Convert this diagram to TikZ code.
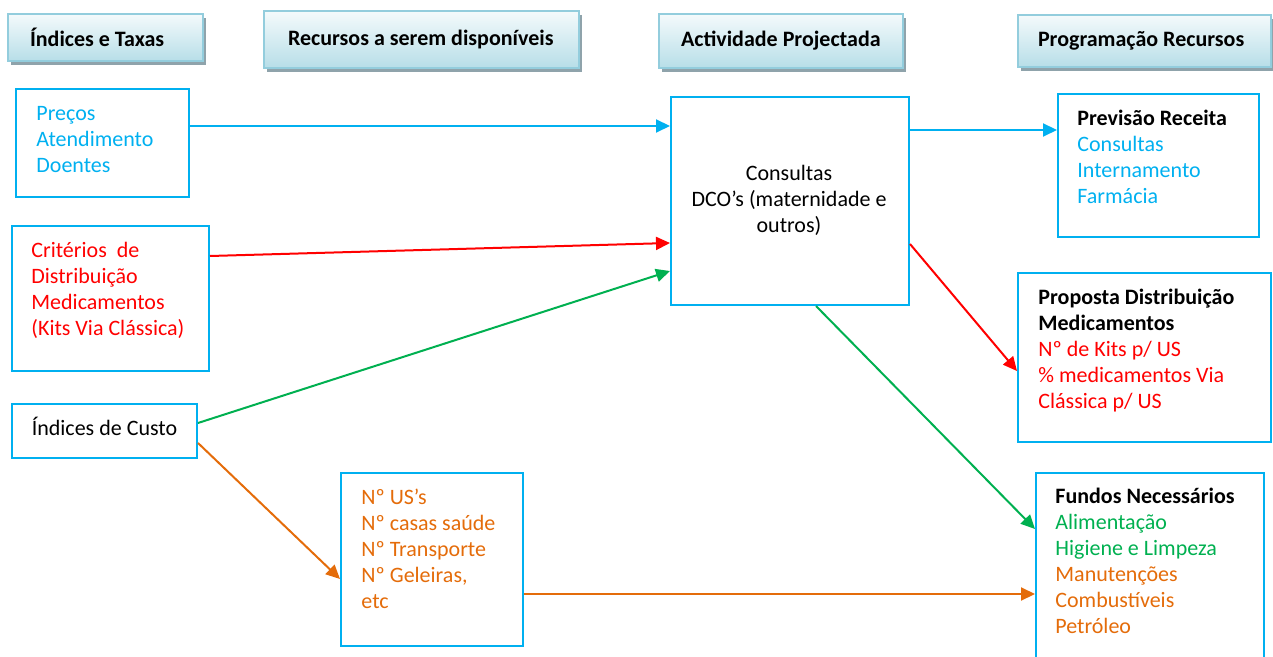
\documentclass[tikz,border=0pt]{standalone}
\usepackage{fontspec}
\setmainfont{Carlito}
\usetikzlibrary{arrows.meta, shadows}

\definecolor{cyanline}{HTML}{00B0F0}
\definecolor{redline}{HTML}{FF0000}
\definecolor{greenline}{HTML}{00B050}
\definecolor{orangeline}{HTML}{E46C0A}
\definecolor{headborder}{HTML}{93CDDD}
\definecolor{headfill}{HTML}{B7DEE8}
\definecolor{headshadow}{HTML}{8FA3AB}

\begin{document}
\begin{tikzpicture}[x=0.5pt, y=-0.5pt, font=\fontsize{11}{13}\selectfont,
    header/.style={rectangle, draw=headborder, line width=1pt, top color=headfill!15, bottom color=headfill, anchor=north west, font=\fontsize{11}{13}\selectfont\bfseries, drop shadow={shadow xshift=1.5pt, shadow yshift=-2pt, fill=headshadow, opacity=1}},
    box/.style={rectangle, draw=cyanline, line width=1pt, anchor=north west, inner sep=0pt},
    boxtext/.style={anchor=base west, align=flush left, inner sep=0pt, text width=#1},
    link/.style={line width=1pt, -{Triangle[length=7pt, width=6.5pt]}}]
    \useasboundingbox (0,0) rectangle (1273,657);

    % Headers
    \node [header, minimum width=97.5pt, minimum height=23.5pt, inner xsep=11pt] (hindices) at (7,13) {\makebox[75.5pt][l]{Índices e Taxas}};
    \node [header, minimum width=157.5pt, minimum height=28.5pt, inner xsep=12pt] (hrecursos) at (263,10) {\makebox[133.5pt][l]{Recursos a serem disponíveis}};
    \node [header, minimum width=122pt, minimum height=27pt, inner xsep=11pt] (hactividade) at (658,13) {\makebox[100pt][l]{Actividade Projectada}};
    \node [header, minimum width=126.5pt, minimum height=26pt, inner xsep=10pt] (hprogramacao) at (1017,14) {\makebox[106.5pt][l]{Programação Recursos}};

    % Boxes
    \node [box, minimum width=86.5pt, minimum height=54pt] (precos) at (15,88) {};
    \node [box, minimum width=98.5pt, minimum height=72.5pt] (criterios) at (11,225) {};
    \node [box, minimum width=92.5pt, minimum height=27pt, text height=8pt, text depth=4pt] (custo) at (11,403) {Índices de Custo};
    \node [box, minimum width=91pt, minimum height=86.5pt] (meios) at (340,472) {};
    \node [box, minimum width=119pt, minimum height=104pt] (consultas) at (670,96) {};
    \node [box, minimum width=100.5pt, minimum height=71.5pt] (receita) at (1057,93) {};
    \node [box, minimum width=126.5pt, minimum height=84.5pt] (proposta) at (1017,272) {};
    \node [box, minimum width=114pt, minimum height=100pt] (fundos) at (1035,472) {};

    % Texts
    \node [boxtext=75pt, text=cyanline] (precostext) at (36,121) {Preços\\Atendimento\\Doentes};
    \node [boxtext=85pt, text=redline] (criteriostext) at (31,258) {Critérios\ \ de\\Distribuição\\Medicamentos\\(Kits Via Clássica)};
    \node [boxtext=80pt, text=orangeline] (meiostext) at (361,504) {Nº US’s\\Nº casas saúde\\Nº Transporte\\Nº Geleiras,\\etc};
    \node [anchor=base, align=flush center, inner sep=0pt, text width=110pt] (consultastext) at (789,181) {Consultas\\DCO’s (maternidade e\\outros)};
    \node [boxtext=90pt] (receitatext) at (1077,126) {\textbf{Previsão Receita}\\\textcolor{cyanline}{Consultas}\\\textcolor{cyanline}{Internamento}\\\textcolor{cyanline}{Farmácia}};
    \node [boxtext=110pt] (propostatext) at (1038,305) {\textbf{Proposta Distribuição}\\\textbf{Medicamentos}\\\textcolor{redline}{Nº de Kits p/ US}\\\textcolor{redline}{\% medicamentos Via}\\\textcolor{redline}{Clássica p/ US}};
    \node [boxtext=100pt] (fundostext) at (1055,503) {\textbf{Fundos Necessários}\\\textcolor{greenline}{Alimentação}\\\textcolor{greenline}{Higiene e Limpeza}\\\textcolor{orangeline}{Manutenções}\\\textcolor{orangeline}{Combustíveis}\\\textcolor{orangeline}{Petróleo}};

    % Arrows
    \coordinate (a1) at ([yshift=8.5pt]precos.east);
    \draw [link, cyanline] (a1) -- (a1 -| consultas.west);
    \coordinate (a2) at ([yshift=35.5pt]consultas.east);
    \draw [link, cyanline] (a2) -- (a2 -| receita.west);
    \draw [link, redline] ([yshift=21.25pt]criterios.east) -- ([yshift=-21pt]consultas.west);
    \draw [link, greenline] ([yshift=4pt]custo.east) -- ([yshift=-35pt]consultas.west);
    \draw [link, orangeline] ([yshift=8pt]custo.south east) -- ([yshift=-9.75pt]meios.west);
    \draw [link, redline] ([yshift=-21.5pt]consultas.east) -- ([yshift=-6.75pt]proposta.west);
    \draw [link, greenline] ([xshift=13pt]consultas.south) -- ([yshift=22pt]fundos.west);
    \coordinate (a8) at ([yshift=-17.25pt]meios.east);
    \draw [link, orangeline] (a8) -- (a8 -| fundos.west);
\end{tikzpicture}
\end{document}
